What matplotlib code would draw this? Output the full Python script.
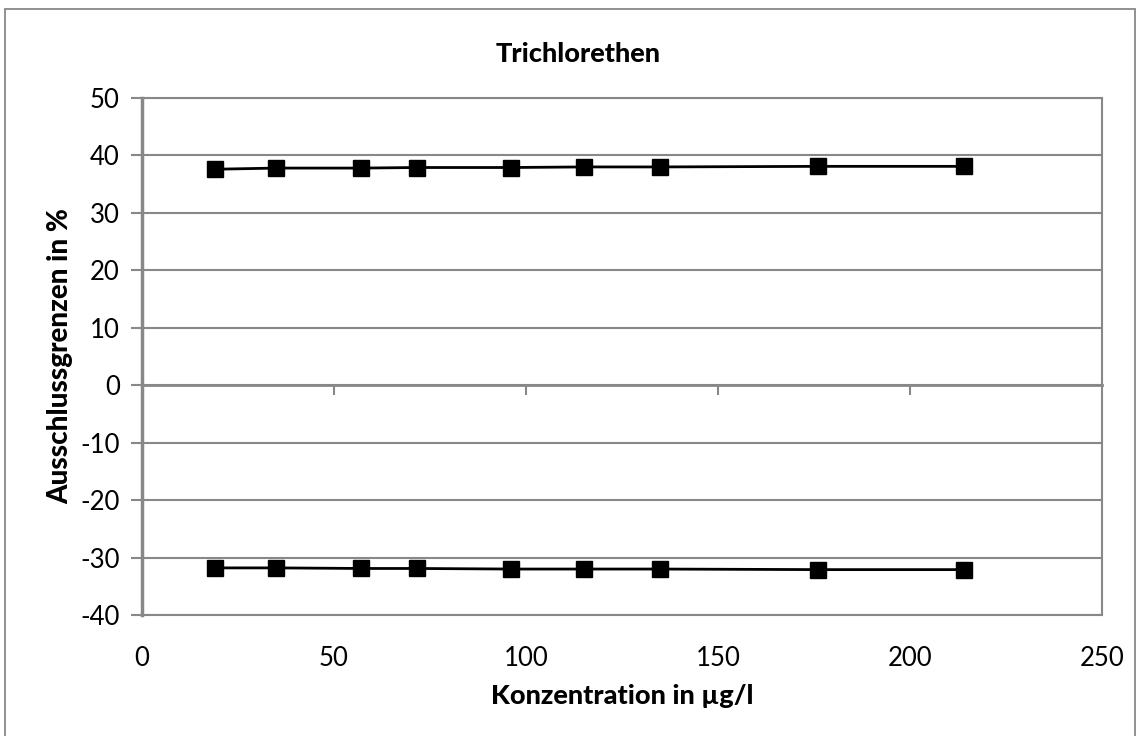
import matplotlib.pyplot as plt
from matplotlib.patches import Rectangle

# values
konz = [19, 35, 57, 71.5, 96, 115, 135, 176, 214]
obere_grenze = [37.6, 37.8, 37.8, 37.9, 37.9, 38.0, 38.0, 38.1, 38.1]
untere_grenze = [-31.8, -31.8, -31.9, -31.9, -32.0, -32.0, -32.0, -32.1, -32.1]
x_ticks = [0, 50, 100, 150, 200, 250]
y_ticks = [-40, -30, -20, -10, 0, 10, 20, 30, 40, 50]

grau = '#888888'
plt.rcParams['font.family'] = ['Lato', 'DejaVu Sans']
plt.rcParams['axes.unicode_minus'] = False

fig = plt.figure(figsize=(11.41, 7.36), dpi=100)
ax = fig.add_axes([142/1141, 1 - 615/736, 960/1141, 517/736])

# outer frame of the chart
fig.patches.append(Rectangle((5/1141, -0.05), 1130/1141, 1.05 - 9/736,
                             transform=fig.transFigure, fill=False,
                             edgecolor=grau, linewidth=1.3))

for ys in (obere_grenze, untere_grenze):
    ax.plot(konz, ys, color='black', linewidth=2, marker='s',
            markersize=12, zorder=3)

ax.set_xlim(0, 250)
ax.set_ylim(-40, 50)
ax.set_xticks(x_ticks)
ax.set_yticks(y_ticks)
ax.grid(axis='y', color=grau, linewidth=1.5)
ax.set_axisbelow(True)
for s in ax.spines.values():
    s.set_color(grau)
    s.set_linewidth(1.5)
ax.spines['left'].set_linewidth(2.5)

ax.tick_params(axis='x', length=0, pad=22, labelsize=18.5)
ax.tick_params(axis='y', direction='out', length=8, width=1.5, color=grau,
               pad=8, labelsize=18.5)

# horizontal axis crossing at y=0 with small tick marks
achse = ax.secondary_xaxis(40/90)
achse.set_xticks(x_ticks[1:-1])
achse.set_xticklabels([])
achse.tick_params(direction='out', length=7, width=1.5, color=grau)
achse.spines['bottom'].set_color(grau)
achse.spines['bottom'].set_linewidth(2)

# title sits over the middle of the whole chart, not the plot area
ax.set_title('Trichlorethen', fontsize=19.5, fontweight='black', pad=26,
             x=0.454)
ax.set_xlabel('Konzentration in µg/l', fontsize=19.5, fontweight='black',
              labelpad=10)
ax.set_ylabel('Ausschlussgrenzen in %', fontsize=20, fontweight='black',
              labelpad=5)

fig.savefig('out.png', dpi=100)
